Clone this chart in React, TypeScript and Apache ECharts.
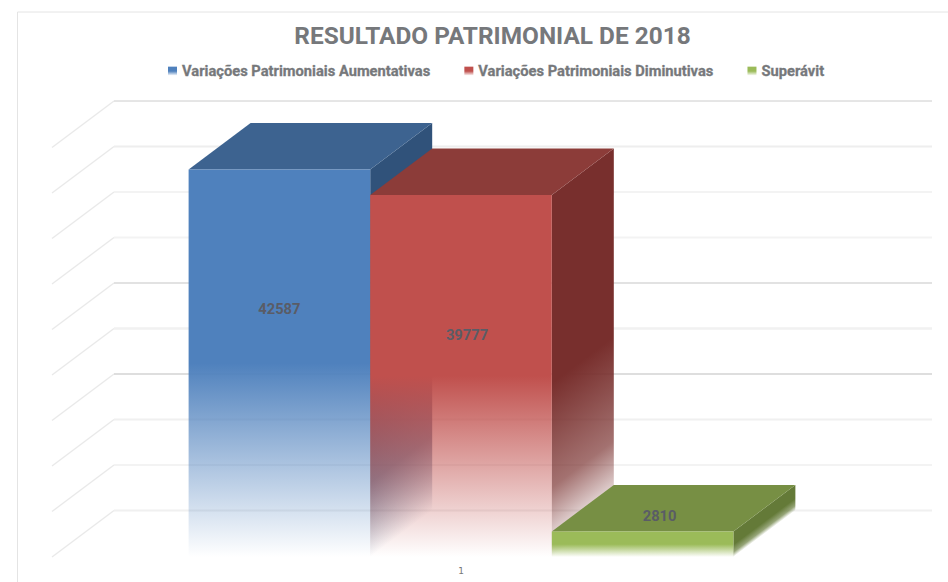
import React, { useEffect, useRef } from "react";
import * as echarts from "echarts";

const CHART_TITLE = "RESULTADO PATRIMONIAL DE 2018";
const CATEGORIES = ["1"];
const SERIES_NAMES = [
  "Variações Patrimoniais Aumentativas",
  "Variações Patrimoniais Diminutivas",
  "Superávit",
];
const SERIES_VALUES = [42587, 39777, 2810];
const TICK_VALUES = [0, 5000, 10000, 15000, 20000, 25000, 30000, 35000, 40000, 45000];
const FRONT_COLORS = ["79,129,189", "192,80,77", "155,187,89"];
const TOP_COLORS = ["#3d6390", "#8c3c39", "#778f44"];
const SIDE_COLORS = ["48,82,122", "120,47,45", "100,122,56"];

const DEPTH_X = 62;
const DEPTH_Y = 46.5;
const BAR_SHARE = 0.222;
const LABEL_SHIFTS = [
  [0, -54],
  [6, -41],
  [17, -28],
];
const GRID_COLORS = ["#f0f0f0", "#f3f3f3", "#f0f0f0", "#bdbdbd", "#f1f1f1", "#c6c6c6", "#f3f3f3", "#f3f3f3", "#eeeeee", "#cccccc"];
const GRID_WIDTHS = [2, 2, 2, 1, 2.6, 1.2, 2, 2, 2, 1];

const frontFill = (rgb: string) =>
  new echarts.graphic.LinearGradient(0, 0, 0, 1, [
    { offset: 0, color: `rgba(${rgb},1)` },
    { offset: 0.5, color: `rgba(${rgb},1)` },
    { offset: 1, color: `rgba(${rgb},0)` },
  ]);

const barSeries = (index: number) => ({
  type: "custom",
  name: SERIES_NAMES[index],
  silent: true,
  encode: { x: 0, y: 1 },
  data: [[0, SERIES_VALUES[index]]],
  itemStyle: { color: frontFill(FRONT_COLORS[index]) },
  z: 3 + index,
  renderItem: (_params: any, api: any) => {
    const value = api.value(1);
    const top = api.coord([0, value]);
    const base = api.coord([0, 0]);
    const width = api.size([1, 0])[0] * BAR_SHARE;
    const x0 = top[0] - DEPTH_X + (index - 1.5) * width;
    const x1 = x0 + width;
    const yTop = top[1] + DEPTH_Y;
    const yBase = base[1] + DEPTH_Y;
    const yMid = (yTop + yBase) / 2;
    const yFade = yTop + (yBase - yTop) * 0.52;
    const len = Math.hypot(DEPTH_X, DEPTH_Y);
    const dist = ((yBase - yFade) * DEPTH_X) / len;
    const ux = DEPTH_Y / len;
    const uy = DEPTH_X / len;
    const sideFill = new echarts.graphic.LinearGradient(
      x1,
      yFade,
      x1 + ux * dist,
      yFade + uy * dist,
      [
        { offset: 0, color: `rgba(${SIDE_COLORS[index]},1)` },
        { offset: 0.6, color: `rgba(${SIDE_COLORS[index]},0.68)` },
        { offset: 1, color: `rgba(${SIDE_COLORS[index]},0)` },
      ],
      true,
    );
    return {
      type: "group",
      children: [
        {
          type: "polygon",
          shape: {
            points: [
              [x1, yTop],
              [x1 + DEPTH_X, yTop - DEPTH_Y],
              [x1 + DEPTH_X, yBase - DEPTH_Y],
              [x1, yBase],
            ],
          },
          style: { fill: sideFill },
        },
        {
          type: "polygon",
          shape: {
            points: [
              [x0, yTop],
              [x1, yTop],
              [x1 + DEPTH_X, yTop - DEPTH_Y],
              [x0 + DEPTH_X, yTop - DEPTH_Y],
            ],
          },
          style: { fill: TOP_COLORS[index] },
        },
        {
          type: "rect",
          shape: { x: x0, y: yTop, width, height: yBase - yTop },
          style: { fill: frontFill(FRONT_COLORS[index]) },
        },
        {
          type: "text",
          x: (x0 + x1) / 2 + LABEL_SHIFTS[index][0],
          y: yMid + LABEL_SHIFTS[index][1],
          style: {
            text: String(value),
            fontFamily: "Roboto",
            fontSize: 14.7,
            fontWeight: "bold",
            fill: "#5a5c66",
            align: "center",
            verticalAlign: "middle",
          },
        },
      ],
    };
  },
});

export default function App() {
  const ref = useRef<HTMLDivElement>(null);
  useEffect(() => {
    const chart = echarts.init(ref.current!, undefined, { renderer: "svg" });
    chart.setOption({
      animation: false,
      backgroundColor: "#ffffff",
      title: {
        text: CHART_TITLE,
        left: 487.5,
        textAlign: "center",
        top: 18,
        textStyle: { fontFamily: "Roboto", fontSize: 24.4, fontWeight: "bold", color: "#76787b" },
      },
      legend: {
        data: SERIES_NAMES,
        left: 168,
        top: 63.5,
        icon: "rect",
        itemWidth: 9,
        itemHeight: 9,
        itemGap: 34,
        padding: 0,
        textStyle: {
          fontFamily: "Roboto",
          fontSize: 14.7,
          fontWeight: "bold",
          color: "#76787b",
          textBorderColor: "#76787b",
          textBorderWidth: 0.3,
        },
      },
      grid: { left: 114, right: 16, top: 101, bottom: 71.5 },
      xAxis: {
        type: "category",
        data: CATEGORIES,
        axisLine: { show: false },
        axisTick: { show: false },
        axisLabel: {
          margin: 56,
          fontSize: 9,
          fontFamily: "DejaVu Sans",
          color: "#777777",
          padding: [0, 124, 0, 0],
        },
      },
      yAxis: {
        type: "value",
        min: 0,
        max: 45000,
        interval: 5000,
        axisLine: { show: false },
        axisTick: { show: false },
        axisLabel: { show: false },
        splitLine: { show: false },
      },
      graphic: [
        {
          type: "polyline",
          shape: { points: [[17.5, 582], [17.5, 12], [948, 12]] },
          style: { fill: "none", stroke: "#e4e4e4", lineWidth: 1 },
        },
      ],
      series: [
        {
          type: "custom",
          name: "grade",
          silent: true,
          z: 1,
          encode: { x: 0, y: 1 },
          data: TICK_VALUES.map((v) => [0, v]),
          renderItem: (params: any, api: any) => {
            const p = api.coord([0, api.value(1)]);
            const cs = params.coordSys;
            const i = params.dataIndex;
            return {
              type: "group",
              children: [
                {
                  type: "line",
                  shape: { x1: cs.x, y1: p[1], x2: cs.x - DEPTH_X, y2: p[1] + DEPTH_Y },
                  style: { stroke: "#e9e9e9", lineWidth: 1.3 },
                },
                {
                  type: "line",
                  shape: { x1: cs.x, y1: p[1], x2: cs.x + cs.width, y2: p[1] },
                  style: { stroke: GRID_COLORS[i], lineWidth: GRID_WIDTHS[i] },
                },
              ],
            };
          },
        },
        barSeries(0),
        barSeries(1),
        barSeries(2),
      ],
    });
    return () => chart.dispose();
  }, []);
  return (
    <div
      ref={ref}
      style={{ position: "fixed", left: 0, top: 0, width: 948, height: 582, background: "#fff" }}
    />
  );
}
